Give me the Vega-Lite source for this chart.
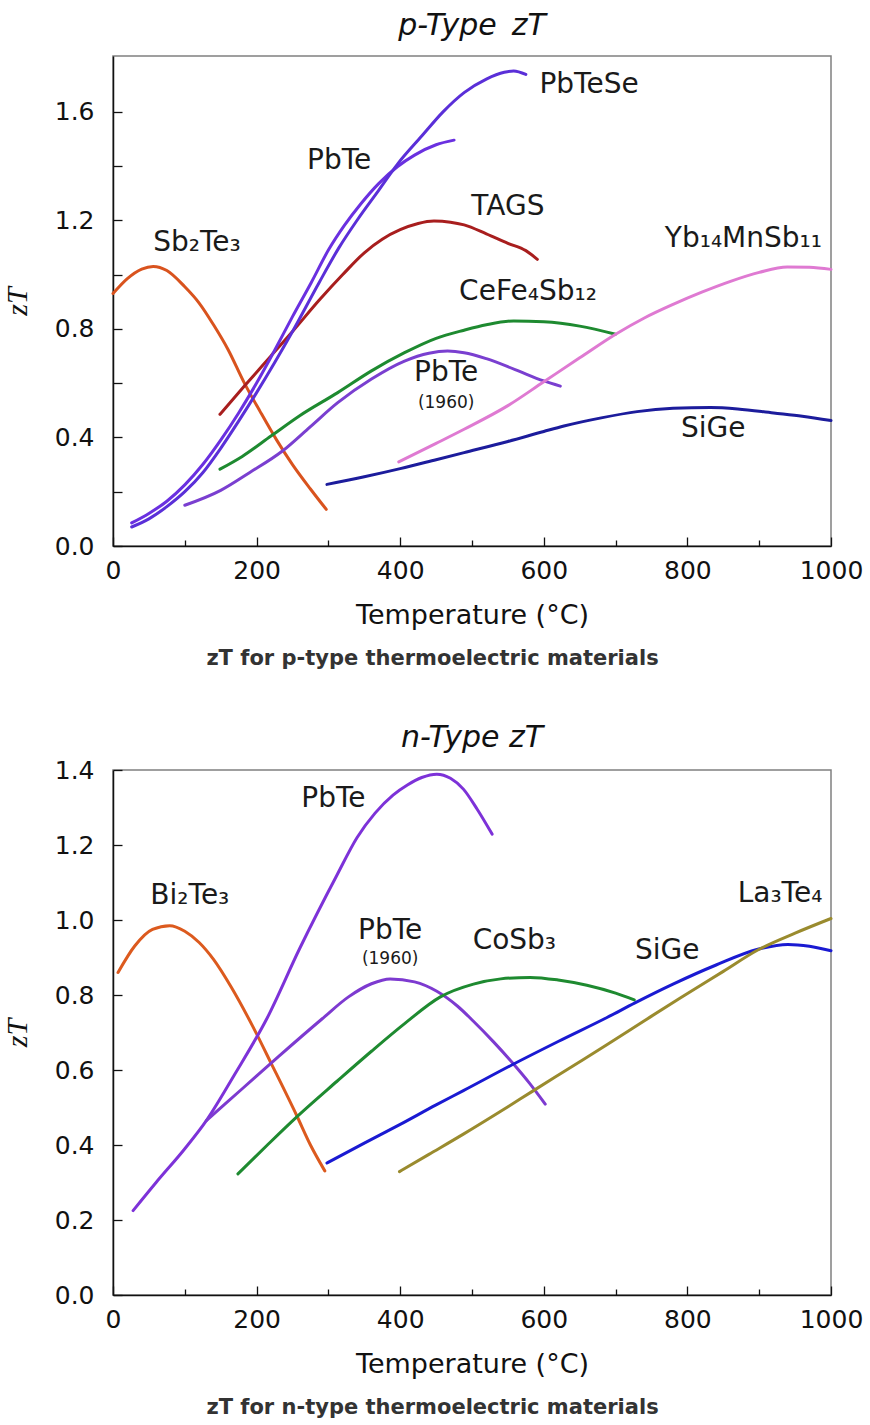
{
  "$schema": "https://vega.github.io/schema/vega-lite/v6.json",
  "background": "white",
  "padding": {"left": 1, "top": 10, "right": 5, "bottom": 5},
  "config": {
    "view": {"stroke": "#808080", "strokeWidth": 1.5},
    "axis": {"grid": false, "domainColor": "#111111", "domainWidth": 1.5, "tickColor": "#111111", "tickWidth": 1.3, "labelFont": "DejaVu Sans", "labelFontSize": 25, "labelColor": "#111111", "titleColor": "#111111", "titleFontWeight": "normal", "labelOverlap": false, "labelFlush": false},
    "line": {"strokeWidth": 3, "interpolate": "monotone", "strokeCap": "round"},
    "text": {"font": "DejaVu Sans", "fontSize": 28, "color": "#1a1a1a"}
  },
  "resolve": {"scale": {"color": "independent"}},
  "spacing": 53,
  "datasets": {
    "p": [
      {"s": "Sb2Te3", "T": 0, "zT": 0.93}, {"s": "Sb2Te3", "T": 20, "zT": 0.985}, {"s": "Sb2Te3", "T": 40, "zT": 1.02}, {"s": "Sb2Te3", "T": 56, "zT": 1.03}, {"s": "Sb2Te3", "T": 75, "zT": 1.015}, {"s": "Sb2Te3", "T": 100, "zT": 0.955}, {"s": "Sb2Te3", "T": 120, "zT": 0.895}, {"s": "Sb2Te3", "T": 140, "zT": 0.815}, {"s": "Sb2Te3", "T": 160, "zT": 0.725}, {"s": "Sb2Te3", "T": 183, "zT": 0.6}, {"s": "Sb2Te3", "T": 205, "zT": 0.495}, {"s": "Sb2Te3", "T": 228, "zT": 0.39}, {"s": "Sb2Te3", "T": 250, "zT": 0.3}, {"s": "Sb2Te3", "T": 275, "zT": 0.21}, {"s": "Sb2Te3", "T": 297, "zT": 0.135},
      {"s": "TAGS", "T": 149, "zT": 0.485}, {"s": "TAGS", "T": 183, "zT": 0.589}, {"s": "TAGS", "T": 220, "zT": 0.7}, {"s": "TAGS", "T": 250, "zT": 0.79}, {"s": "TAGS", "T": 287, "zT": 0.905}, {"s": "TAGS", "T": 320, "zT": 1.0}, {"s": "TAGS", "T": 350, "zT": 1.08}, {"s": "TAGS", "T": 375, "zT": 1.13}, {"s": "TAGS", "T": 400, "zT": 1.165}, {"s": "TAGS", "T": 425, "zT": 1.188}, {"s": "TAGS", "T": 447, "zT": 1.197}, {"s": "TAGS", "T": 470, "zT": 1.193}, {"s": "TAGS", "T": 489, "zT": 1.183}, {"s": "TAGS", "T": 520, "zT": 1.15}, {"s": "TAGS", "T": 550, "zT": 1.115}, {"s": "TAGS", "T": 575, "zT": 1.088}, {"s": "TAGS", "T": 591, "zT": 1.056},
      {"s": "PbTe", "T": 26, "zT": 0.085}, {"s": "PbTe", "T": 50, "zT": 0.12}, {"s": "PbTe", "T": 75, "zT": 0.165}, {"s": "PbTe", "T": 100, "zT": 0.225}, {"s": "PbTe", "T": 125, "zT": 0.3}, {"s": "PbTe", "T": 150, "zT": 0.39}, {"s": "PbTe", "T": 175, "zT": 0.49}, {"s": "PbTe", "T": 200, "zT": 0.6}, {"s": "PbTe", "T": 225, "zT": 0.72}, {"s": "PbTe", "T": 250, "zT": 0.845}, {"s": "PbTe", "T": 276, "zT": 0.97}, {"s": "PbTe", "T": 300, "zT": 1.09}, {"s": "PbTe", "T": 322, "zT": 1.18}, {"s": "PbTe", "T": 345, "zT": 1.26}, {"s": "PbTe", "T": 370, "zT": 1.335}, {"s": "PbTe", "T": 396, "zT": 1.397}, {"s": "PbTe", "T": 420, "zT": 1.44}, {"s": "PbTe", "T": 450, "zT": 1.478}, {"s": "PbTe", "T": 475, "zT": 1.495},
      {"s": "PbTeSe", "T": 26, "zT": 0.07}, {"s": "PbTeSe", "T": 50, "zT": 0.1}, {"s": "PbTeSe", "T": 75, "zT": 0.145}, {"s": "PbTeSe", "T": 100, "zT": 0.2}, {"s": "PbTeSe", "T": 125, "zT": 0.27}, {"s": "PbTeSe", "T": 150, "zT": 0.36}, {"s": "PbTeSe", "T": 175, "zT": 0.46}, {"s": "PbTeSe", "T": 200, "zT": 0.565}, {"s": "PbTeSe", "T": 225, "zT": 0.675}, {"s": "PbTeSe", "T": 250, "zT": 0.79}, {"s": "PbTeSe", "T": 287, "zT": 0.97}, {"s": "PbTeSe", "T": 315, "zT": 1.1}, {"s": "PbTeSe", "T": 340, "zT": 1.2}, {"s": "PbTeSe", "T": 370, "zT": 1.31}, {"s": "PbTeSe", "T": 396, "zT": 1.406}, {"s": "PbTeSe", "T": 430, "zT": 1.51}, {"s": "PbTeSe", "T": 460, "zT": 1.6}, {"s": "PbTeSe", "T": 489, "zT": 1.67}, {"s": "PbTeSe", "T": 520, "zT": 1.72}, {"s": "PbTeSe", "T": 545, "zT": 1.745}, {"s": "PbTeSe", "T": 558, "zT": 1.75}, {"s": "PbTeSe", "T": 575, "zT": 1.737},
      {"s": "CeFe4Sb12", "T": 149, "zT": 0.283}, {"s": "CeFe4Sb12", "T": 180, "zT": 0.33}, {"s": "CeFe4Sb12", "T": 220, "zT": 0.405}, {"s": "CeFe4Sb12", "T": 260, "zT": 0.48}, {"s": "CeFe4Sb12", "T": 313, "zT": 0.565}, {"s": "CeFe4Sb12", "T": 360, "zT": 0.645}, {"s": "CeFe4Sb12", "T": 406, "zT": 0.712}, {"s": "CeFe4Sb12", "T": 450, "zT": 0.765}, {"s": "CeFe4Sb12", "T": 489, "zT": 0.795}, {"s": "CeFe4Sb12", "T": 520, "zT": 0.815}, {"s": "CeFe4Sb12", "T": 558, "zT": 0.829}, {"s": "CeFe4Sb12", "T": 600, "zT": 0.826}, {"s": "CeFe4Sb12", "T": 650, "zT": 0.81}, {"s": "CeFe4Sb12", "T": 700, "zT": 0.78},
      {"s": "PbTe1960", "T": 100, "zT": 0.15}, {"s": "PbTe1960", "T": 150, "zT": 0.205}, {"s": "PbTe1960", "T": 190, "zT": 0.27}, {"s": "PbTe1960", "T": 236, "zT": 0.35}, {"s": "PbTe1960", "T": 275, "zT": 0.44}, {"s": "PbTe1960", "T": 313, "zT": 0.528}, {"s": "PbTe1960", "T": 360, "zT": 0.615}, {"s": "PbTe1960", "T": 406, "zT": 0.681}, {"s": "PbTe1960", "T": 440, "zT": 0.71}, {"s": "PbTe1960", "T": 466, "zT": 0.718}, {"s": "PbTe1960", "T": 489, "zT": 0.712}, {"s": "PbTe1960", "T": 520, "zT": 0.69}, {"s": "PbTe1960", "T": 560, "zT": 0.65}, {"s": "PbTe1960", "T": 600, "zT": 0.608}, {"s": "PbTe1960", "T": 623, "zT": 0.589},
      {"s": "Yb14MnSb11", "T": 398, "zT": 0.31}, {"s": "Yb14MnSb11", "T": 450, "zT": 0.378}, {"s": "Yb14MnSb11", "T": 489, "zT": 0.43}, {"s": "Yb14MnSb11", "T": 550, "zT": 0.517}, {"s": "Yb14MnSb11", "T": 600, "zT": 0.605}, {"s": "Yb14MnSb11", "T": 650, "zT": 0.693}, {"s": "Yb14MnSb11", "T": 700, "zT": 0.78}, {"s": "Yb14MnSb11", "T": 740, "zT": 0.84}, {"s": "Yb14MnSb11", "T": 780, "zT": 0.89}, {"s": "Yb14MnSb11", "T": 820, "zT": 0.935}, {"s": "Yb14MnSb11", "T": 860, "zT": 0.975}, {"s": "Yb14MnSb11", "T": 900, "zT": 1.008}, {"s": "Yb14MnSb11", "T": 939, "zT": 1.028}, {"s": "Yb14MnSb11", "T": 970, "zT": 1.027}, {"s": "Yb14MnSb11", "T": 1000, "zT": 1.019},
      {"s": "SiGe", "T": 298, "zT": 0.227}, {"s": "SiGe", "T": 350, "zT": 0.255}, {"s": "SiGe", "T": 400, "zT": 0.285}, {"s": "SiGe", "T": 450, "zT": 0.318}, {"s": "SiGe", "T": 489, "zT": 0.344}, {"s": "SiGe", "T": 550, "zT": 0.385}, {"s": "SiGe", "T": 600, "zT": 0.422}, {"s": "SiGe", "T": 628, "zT": 0.442}, {"s": "SiGe", "T": 680, "zT": 0.472}, {"s": "SiGe", "T": 730, "zT": 0.495}, {"s": "SiGe", "T": 780, "zT": 0.507}, {"s": "SiGe", "T": 832, "zT": 0.51}, {"s": "SiGe", "T": 870, "zT": 0.505}, {"s": "SiGe", "T": 920, "zT": 0.49}, {"s": "SiGe", "T": 960, "zT": 0.478}, {"s": "SiGe", "T": 1000, "zT": 0.462}
    ],
    "pl": [
      {"label": "Sb₂Te₃", "T": 117, "zT": 1.117},
      {"label": "PbTe", "T": 315, "zT": 1.418},
      {"label": "PbTeSe", "T": 663, "zT": 1.7},
      {"label": "TAGS", "T": 550, "zT": 1.25},
      {"label": "Yb₁₄MnSb₁₁", "T": 878, "zT": 1.13},
      {"label": "CeFe₄Sb₁₂", "T": 578, "zT": 0.934},
      {"label": "PbTe", "T": 464, "zT": 0.639},
      {"label": "SiGe", "T": 836, "zT": 0.43}
    ],
    "pn": [{"label": "(1960)", "T": 464, "zT": 0.528}],
    "n": [
      {"s": "Bi2Te3", "T": 7, "zT": 0.86}, {"s": "Bi2Te3", "T": 30, "zT": 0.93}, {"s": "Bi2Te3", "T": 55, "zT": 0.975}, {"s": "Bi2Te3", "T": 79, "zT": 0.985}, {"s": "Bi2Te3", "T": 100, "zT": 0.97}, {"s": "Bi2Te3", "T": 120, "zT": 0.94}, {"s": "Bi2Te3", "T": 140, "zT": 0.895}, {"s": "Bi2Te3", "T": 165, "zT": 0.82}, {"s": "Bi2Te3", "T": 195, "zT": 0.715}, {"s": "Bi2Te3", "T": 221, "zT": 0.615}, {"s": "Bi2Te3", "T": 256, "zT": 0.478}, {"s": "Bi2Te3", "T": 275, "zT": 0.4}, {"s": "Bi2Te3", "T": 295, "zT": 0.331},
      {"s": "PbTe", "T": 28, "zT": 0.225}, {"s": "PbTe", "T": 60, "zT": 0.3}, {"s": "PbTe", "T": 100, "zT": 0.39}, {"s": "PbTe", "T": 130, "zT": 0.465}, {"s": "PbTe", "T": 170, "zT": 0.59}, {"s": "PbTe", "T": 214, "zT": 0.736}, {"s": "PbTe", "T": 260, "zT": 0.924}, {"s": "PbTe", "T": 312, "zT": 1.12}, {"s": "PbTe", "T": 340, "zT": 1.22}, {"s": "PbTe", "T": 365, "zT": 1.285}, {"s": "PbTe", "T": 390, "zT": 1.333}, {"s": "PbTe", "T": 410, "zT": 1.36}, {"s": "PbTe", "T": 430, "zT": 1.38}, {"s": "PbTe", "T": 451, "zT": 1.389}, {"s": "PbTe", "T": 470, "zT": 1.378}, {"s": "PbTe", "T": 488, "zT": 1.349}, {"s": "PbTe", "T": 507, "zT": 1.296}, {"s": "PbTe", "T": 528, "zT": 1.229},
      {"s": "PbTe1960", "T": 130, "zT": 0.465}, {"s": "PbTe1960", "T": 180, "zT": 0.55}, {"s": "PbTe1960", "T": 230, "zT": 0.635}, {"s": "PbTe1960", "T": 291, "zT": 0.736}, {"s": "PbTe1960", "T": 328, "zT": 0.795}, {"s": "PbTe1960", "T": 360, "zT": 0.83}, {"s": "PbTe1960", "T": 386, "zT": 0.843}, {"s": "PbTe1960", "T": 420, "zT": 0.835}, {"s": "PbTe1960", "T": 451, "zT": 0.81}, {"s": "PbTe1960", "T": 480, "zT": 0.77}, {"s": "PbTe1960", "T": 502, "zT": 0.73}, {"s": "PbTe1960", "T": 530, "zT": 0.675}, {"s": "PbTe1960", "T": 556, "zT": 0.62}, {"s": "PbTe1960", "T": 580, "zT": 0.565}, {"s": "PbTe1960", "T": 602, "zT": 0.509},
      {"s": "CoSb3", "T": 174, "zT": 0.323}, {"s": "CoSb3", "T": 215, "zT": 0.4}, {"s": "CoSb3", "T": 256, "zT": 0.475}, {"s": "CoSb3", "T": 312, "zT": 0.57}, {"s": "CoSb3", "T": 360, "zT": 0.65}, {"s": "CoSb3", "T": 407, "zT": 0.725}, {"s": "CoSb3", "T": 456, "zT": 0.795}, {"s": "CoSb3", "T": 502, "zT": 0.829}, {"s": "CoSb3", "T": 540, "zT": 0.843}, {"s": "CoSb3", "T": 581, "zT": 0.847}, {"s": "CoSb3", "T": 620, "zT": 0.84}, {"s": "CoSb3", "T": 660, "zT": 0.826}, {"s": "CoSb3", "T": 700, "zT": 0.805}, {"s": "CoSb3", "T": 726, "zT": 0.787},
      {"s": "SiGe", "T": 298, "zT": 0.352}, {"s": "SiGe", "T": 350, "zT": 0.405}, {"s": "SiGe", "T": 400, "zT": 0.455}, {"s": "SiGe", "T": 450, "zT": 0.507}, {"s": "SiGe", "T": 488, "zT": 0.545}, {"s": "SiGe", "T": 556, "zT": 0.614}, {"s": "SiGe", "T": 620, "zT": 0.676}, {"s": "SiGe", "T": 688, "zT": 0.74}, {"s": "SiGe", "T": 727, "zT": 0.779}, {"s": "SiGe", "T": 780, "zT": 0.829}, {"s": "SiGe", "T": 840, "zT": 0.88}, {"s": "SiGe", "T": 898, "zT": 0.922}, {"s": "SiGe", "T": 940, "zT": 0.935}, {"s": "SiGe", "T": 970, "zT": 0.93}, {"s": "SiGe", "T": 1000, "zT": 0.918},
      {"s": "La3Te4", "T": 399, "zT": 0.329}, {"s": "La3Te4", "T": 440, "zT": 0.375}, {"s": "La3Te4", "T": 488, "zT": 0.429}, {"s": "La3Te4", "T": 540, "zT": 0.49}, {"s": "La3Te4", "T": 584, "zT": 0.543}, {"s": "La3Te4", "T": 640, "zT": 0.61}, {"s": "La3Te4", "T": 690, "zT": 0.67}, {"s": "La3Te4", "T": 739, "zT": 0.73}, {"s": "La3Te4", "T": 790, "zT": 0.792}, {"s": "La3Te4", "T": 850, "zT": 0.863}, {"s": "La3Te4", "T": 898, "zT": 0.92}, {"s": "La3Te4", "T": 950, "zT": 0.965}, {"s": "La3Te4", "T": 1000, "zT": 1.004}
    ],
    "nl": [
      {"label": "PbTe", "T": 307, "zT": 1.323},
      {"label": "Bi₂Te₃", "T": 107, "zT": 1.065},
      {"label": "PbTe", "T": 386, "zT": 0.971},
      {"label": "CoSb₃", "T": 559, "zT": 0.945},
      {"label": "SiGe", "T": 772, "zT": 0.918},
      {"label": "La₃Te₄", "T": 929, "zT": 1.069}
    ],
    "nn": [{"label": "(1960)", "T": 386, "zT": 0.896}]
  },
  "vconcat": [
    {
      "title": {"text": "zT for p-type thermoelectric materials", "orient": "bottom", "anchor": "middle", "font": "DejaVu Sans", "fontSize": 21, "fontWeight": "bold", "color": "#333333", "offset": 19},
      "vconcat": [
        {
          "title": {"text": "p-Type\u2002zT", "anchor": "middle", "frame": "group", "font": "DejaVu Sans", "fontSize": 30, "fontStyle": "italic", "fontWeight": "normal", "color": "#111111", "offset": 15},
          "width": 718,
          "height": 490,
          "layer": [
            {
              "data": {"name": "p"},
              "mark": {"type": "line"},
              "encoding": {
                "x": {"field": "T", "type": "quantitative", "scale": {"domain": [0, 1000], "nice": false},
                  "axis": {"values": [0, 50, 100, 150, 200, 250, 300, 350, 400, 450, 500, 550, 600, 650, 700, 750, 800, 850, 900, 950, 1000], "format": "d", "labelExpr": "datum.value % 200 === 0 ? datum.label : ''", "tickSize": {"condition": {"test": "datum.value % 200 === 0", "value": -9}, "value": -6}, "labelPadding": 21, "title": "Temperature (°C)", "titleFont": "DejaVu Sans", "titleFontSize": 27, "titlePadding": 16}},
                "y": {"field": "zT", "type": "quantitative", "scale": {"domain": [0, 1.805], "nice": false},
                  "axis": {"values": [0, 0.2, 0.4, 0.6, 0.8, 1.0, 1.2, 1.4, 1.6], "format": ".1f", "labelExpr": "round(datum.value * 10) % 4 === 0 ? datum.label : ''", "tickSize": -9, "labelPadding": 28, "title": "zT", "titleFont": "Liberation Serif", "titleFontStyle": "italic", "titleFontSize": 30, "titlePadding": 22}},
                "color": {"field": "s", "type": "nominal", "legend": null,
                  "scale": {"domain": ["Sb2Te3", "TAGS", "PbTe", "PbTeSe", "CeFe4Sb12", "PbTe1960", "Yb14MnSb11", "SiGe"], "range": ["#d9531e", "#a81e1e", "#6a30e0", "#5a2fd8", "#1e8a30", "#7a3fd0", "#df7ad2", "#1c1c9c"]}}
              }
            },
            {
              "data": {"name": "pl"},
              "mark": {"type": "text", "align": "center", "baseline": "middle"},
              "encoding": {"x": {"field": "T", "type": "quantitative"}, "y": {"field": "zT", "type": "quantitative"}, "text": {"field": "label"}}
            },
            {
              "data": {"name": "pn"},
              "mark": {"type": "text", "align": "center", "baseline": "middle", "fontSize": 17},
              "encoding": {"x": {"field": "T", "type": "quantitative"}, "y": {"field": "zT", "type": "quantitative"}, "text": {"field": "label"}}
            }
          ]
        }
      ]
    },
    {
      "title": {"text": "zT for n-type thermoelectric materials", "orient": "bottom", "anchor": "middle", "font": "DejaVu Sans", "fontSize": 21, "fontWeight": "bold", "color": "#333333", "offset": 19},
      "vconcat": [
        {
          "title": {"text": "n-Type zT", "anchor": "middle", "frame": "group", "font": "DejaVu Sans", "fontSize": 30, "fontStyle": "italic", "fontWeight": "normal", "color": "#111111", "offset": 5},
          "width": 718,
          "height": 525,
          "layer": [
            {
              "data": {"name": "n"},
              "mark": {"type": "line"},
              "encoding": {
                "x": {"field": "T", "type": "quantitative", "scale": {"domain": [0, 1000], "nice": false},
                  "axis": {"values": [0, 50, 100, 150, 200, 250, 300, 350, 400, 450, 500, 550, 600, 650, 700, 750, 800, 850, 900, 950, 1000], "format": "d", "labelExpr": "datum.value % 200 === 0 ? datum.label : ''", "tickSize": {"condition": {"test": "datum.value % 200 === 0", "value": -9}, "value": -6}, "labelPadding": 21, "title": "Temperature (°C)", "titleFont": "DejaVu Sans", "titleFontSize": 27, "titlePadding": 16}},
                "y": {"field": "zT", "type": "quantitative", "scale": {"domain": [0, 1.4], "nice": false},
                  "axis": {"values": [0, 0.2, 0.4, 0.6, 0.8, 1.0, 1.2, 1.4], "format": ".1f", "tickSize": -9, "labelPadding": 28, "title": "zT", "titleFont": "Liberation Serif", "titleFontStyle": "italic", "titleFontSize": 30, "titlePadding": 22}},
                "color": {"field": "s", "type": "nominal", "legend": null,
                  "scale": {"domain": ["Bi2Te3", "PbTe", "PbTe1960", "CoSb3", "SiGe", "La3Te4"], "range": ["#dc5a1e", "#7d32d8", "#7d3ad0", "#1e8a30", "#1a1ad2", "#9a8b2e"]}}
              }
            },
            {
              "data": {"name": "nl"},
              "mark": {"type": "text", "align": "center", "baseline": "middle"},
              "encoding": {"x": {"field": "T", "type": "quantitative"}, "y": {"field": "zT", "type": "quantitative"}, "text": {"field": "label"}}
            },
            {
              "data": {"name": "nn"},
              "mark": {"type": "text", "align": "center", "baseline": "middle", "fontSize": 17},
              "encoding": {"x": {"field": "T", "type": "quantitative"}, "y": {"field": "zT", "type": "quantitative"}, "text": {"field": "label"}}
            }
          ]
        }
      ]
    }
  ]
}
